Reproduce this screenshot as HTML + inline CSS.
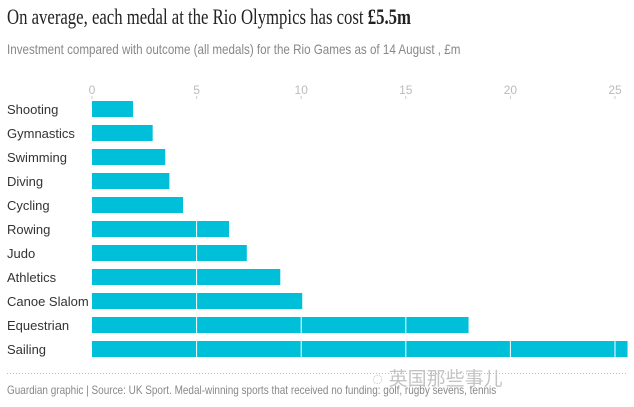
<!DOCTYPE html>
<html><head><meta charset="utf-8"><style>
body{margin:0;width:634px;height:407px;background:#fff;overflow:hidden;font-family:"Liberation Sans",sans-serif}
.t{position:absolute;left:7px;top:4px;font-family:"Liberation Serif",serif;font-size:22px;color:#222;transform:scaleX(0.76);transform-origin:0 0;white-space:nowrap}
.s{position:absolute;left:7px;top:41px;font-size:14px;color:#888;transform:scaleX(0.83);transform-origin:0 0;white-space:nowrap}
.f{position:absolute;left:7px;top:383px;font-size:12px;color:#888;transform:scaleX(0.83);transform-origin:0 0;white-space:nowrap}
.w{position:absolute;left:372px;top:364px;font-family:"Liberation Sans","Noto Sans CJK SC",sans-serif;font-size:19px;color:#c4c4c4}
</style></head><body>
<div class="t">On average, each medal at the Rio Olympics has cost <b>£5.5m</b></div>
<div class="s">Investment compared with outcome (all medals) for the Rio Games as of 14 August , £m</div>
<svg id="c" width="634" height="407" style="position:absolute;left:0;top:0"></svg>
<div class="w">◌ 英国那些事儿</div>
<div class="f">Guardian graphic | Source: UK Sport. Medal-winning sports that received no funding: golf, rugby sevens, tennis</div>
<script>
const categories=["Shooting","Gymnastics","Swimming","Diving","Cycling","Rowing","Judo","Athletics","Canoe Slalom","Equestrian","Sailing"];
const values=[1.96,2.9,3.5,3.7,4.35,6.55,7.4,9.0,10.05,18.0,25.6];
const ticks=[0,5,10,15,20,25];
const svg=document.getElementById('c');const NS="http://www.w3.org/2000/svg";
const x=v=>92+v*20.92;const y=i=>101+i*24;
function mk(t,a){const e=document.createElementNS(NS,t);for(const k in a)e.setAttribute(k,a[k]);svg.appendChild(e);return e;}
ticks.forEach(t=>{
const l=mk('text',{x:x(t),y:94,'text-anchor':'middle','font-size':12,fill:'#bbb','font-family':'Liberation Sans'});l.textContent=t;


mk('line',{x1:x(t),x2:x(t),y1:96,y2:99,stroke:'#ccc'});
});
categories.forEach((c,i)=>{
const lb=mk('text',{x:7,y:y(i)+13,'font-size':13,fill:'#333','font-family':'Liberation Sans',textLength:c.length*6.3>80?79:null});
if(c.length*6.3<=80)lb.removeAttribute('textLength');
lb.textContent=c;


const r=mk('rect',{x:x(0),y:y(i),width:x(values[i])-x(0),height:16,fill:'#00bfd8'});


ticks.forEach(t=>{if(t>0&&t<values[i]-0.2)mk('line',{x1:x(t),x2:x(t),y1:y(i),y2:y(i)+16,stroke:'#fff','stroke-width':1});});
});
mk('line',{x1:7,x2:627,y1:373.5,y2:373.5,stroke:'#bbb','stroke-dasharray':'1,2'});
</script>
</body></html>
